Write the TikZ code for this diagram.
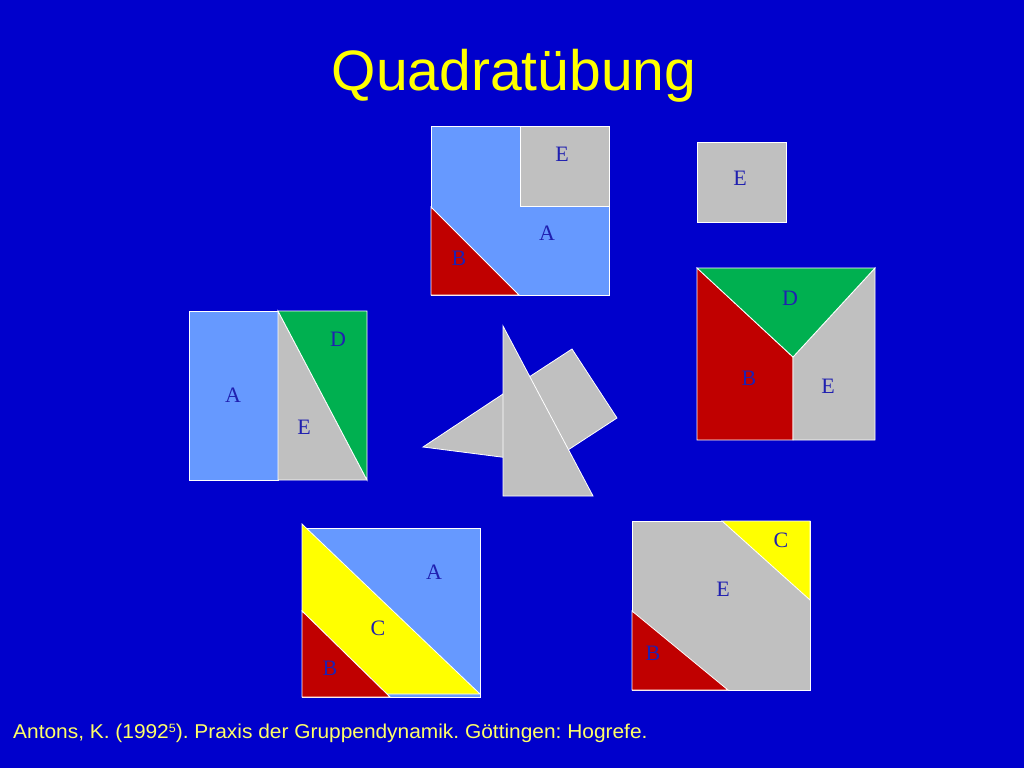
\documentclass[tikz,border=0pt]{standalone}
\usepackage{fontspec}
\setmainfont{Liberation Serif}
\newfontfamily\titlefont{Liberation Sans}
\newfontfamily\citefont[FakeStretch=1.045]{Liberation Sans}
\usetikzlibrary{calc}

\definecolor{slideblue}{RGB}{0,0,204}
\definecolor{pieceA}{RGB}{102,153,255}
\definecolor{pieceB}{RGB}{192,0,0}
\definecolor{pieceC}{RGB}{255,255,0}
\definecolor{pieceD}{RGB}{0,176,80}
\definecolor{pieceE}{RGB}{192,192,192}
\definecolor{labelblue}{RGB}{32,32,176}
\definecolor{citeyellow}{RGB}{255,255,102}

\begin{document}
\frenchspacing
\begin{tikzpicture}[x=1pt, y=-1pt,
        piece_style/.style={draw=white, line width=0.8pt, line join=miter},
        label_style/.style={text=labelblue, font=\fontsize{22}{24}\selectfont, inner sep=0pt},
        title_style/.style={text=pieceC, font=\titlefont\fontsize{57}{60}\selectfont, inner sep=0pt, anchor=base},
        cite_style/.style={text=citeyellow, font=\citefont\fontsize{20}{22}\selectfont, inner sep=0pt, anchor=base west}]

        % background
        \fill [slideblue] (0,0) rectangle (1024,768);
        \useasboundingbox (0,0) rectangle (1024,768);

        \node [title_style] (title) at (514,90) {Quadratübung};

        % square with E in the corner
        \draw [piece_style, fill=pieceA] (431,126) rectangle (609,295);
        \draw [piece_style, fill=pieceE] (520,126) rectangle (609,206);
        \draw [piece_style, fill=pieceB] (431,207) -- (519,295) -- (431,295) -- cycle;
        \node [label_style] (e1) at (562,154) {E};
        \node [label_style] (a1) at (547,233) {A};
        \node [label_style] (b1) at (459,258) {B};

        % single piece E
        \draw [piece_style, fill=pieceE] (697,142) rectangle (786,222);
        \node [label_style] (e2) at (740,178) {E};

        % square B D E
        \draw [piece_style, fill=pieceB] (697,268) -- (793,357) -- (793,440) -- (697,440) -- cycle;
        \draw [piece_style, fill=pieceE] (793,357) -- (875,268) -- (875,440) -- (793,440) -- cycle;
        \draw [piece_style, fill=pieceD] (697,268) -- (875,268) -- (793,357) -- cycle;
        \node [label_style] (d3) at (790,298) {D};
        \node [label_style] (b3) at (749,378) {B};
        \node [label_style] (e3) at (828,386) {E};

        % square A D E
        \draw [piece_style, fill=pieceA] (189,311) rectangle (278,480);
        \draw [piece_style, fill=pieceE] (278,311) -- (367,480) -- (278,480) -- cycle;
        \draw [piece_style, fill=pieceD] (278,311) -- (367,311) -- (367,480) -- cycle;
        \node [label_style] (a4) at (233,395) {A};
        \node [label_style] (d4) at (338,339) {D};
        \node [label_style] (e4) at (304,427) {E};

        % loose pieces in the middle
        \draw [piece_style, fill=pieceE] (423,447) -- (503,394) -- (548,463) -- cycle;
        \draw [piece_style, fill=pieceE] (572,349) -- (617,418) -- (548,463) -- (503,394) -- cycle;
        \draw [piece_style, fill=pieceE] (503,326) -- (593,496) -- (503,496) -- cycle;

        % square A B C
        \draw [piece_style, fill=pieceA] (302,528) rectangle (480,697);
        \draw [piece_style, fill=pieceC] (302,524) -- (480,694) -- (387,694) -- (302,611) -- cycle;
        \draw [piece_style, fill=pieceB] (302,611) -- (390,697) -- (302,697) -- cycle;
        \node [label_style] (a5) at (434,572) {A};
        \node [label_style] (c5) at (378,628) {C};
        \node [label_style] (b5) at (330,668) {B};

        % square B C E
        \draw [piece_style, fill=pieceE] (632,521) rectangle (810,690);
        \draw [piece_style, fill=pieceC] (722,521) -- (810,521) -- (810,600) -- cycle;
        \draw [piece_style, fill=pieceB] (632,611) -- (728,690) -- (632,690) -- cycle;
        \node [label_style] (c6) at (781,540) {C};
        \node [label_style] (e6) at (723,589) {E};
        \node [label_style] (b6) at (653,653) {B};

        \node [cite_style] (cite) at (13,738) {Antons, K. (1992{\fontsize{12}{12}\selectfont\raisebox{6pt}{5}}). Praxis der Gruppendynamik. Göttingen: Hogrefe.};

\end{tikzpicture}
\end{document}
